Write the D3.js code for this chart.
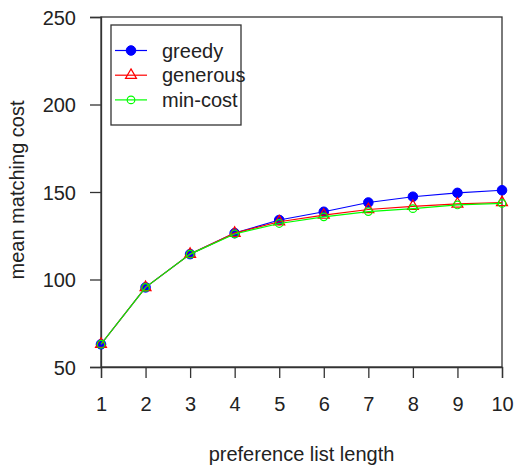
<!DOCTYPE html>
<html>
<head>
<meta charset="utf-8">
<script src="https://cdn.jsdelivr.net/npm/d3@7"></script>
<style>
  body { margin: 0; background: #fff; }
  text { font-family: "Liberation Sans", Arial, sans-serif; fill: #222; }
</style>
</head>
<body>
<div id="chart"></div>
<script>
// preference list length
const listLength = [1, 2, 3, 4, 5, 6, 7, 8, 9, 10];
// mean matching cost per algorithm
const greedy   = [63, 95.5, 114.5, 126.5, 134, 138.7, 144, 147.3, 149.5, 151];
const generous = [63, 95.5, 114.5, 126.5, 133, 136.8, 140, 141.8, 143.2, 144];
const minCost  = [63, 95.5, 114.5, 126, 132, 135.8, 138.8, 140.5, 142.6, 143.5];
const yTicks = [50, 100, 150, 200, 250];

const W = 514, H = 467;
const margin = {top: 17, right: 12, bottom: 100, left: 101};

const svg = d3.select('#chart').append('svg')
  .attr('width', W).attr('height', H);

const x = d3.scaleLinear().domain([1, 10]).range([margin.left, W - margin.right]);
const y = d3.scaleLinear().domain([50, 250]).range([H - margin.bottom, margin.top]);

const axisColor = '#333';

// box round the plot
svg.append('rect')
  .attr('x', x(1)).attr('y', y(250))
  .attr('width', x(10) - x(1)).attr('height', y(50) - y(250))
  .attr('fill', 'none').attr('stroke', axisColor).attr('stroke-width', 1.3);

// axes
const xAxis = svg.append('g')
  .attr('transform', `translate(0,${y(50)})`)
  .call(d3.axisBottom(x).tickValues(listLength).tickSize(11).tickPadding(19).tickFormat(d3.format('d')));
const yAxis = svg.append('g')
  .attr('transform', `translate(${x(1)},0)`)
  .call(d3.axisLeft(y).tickValues(yTicks).tickSize(11).tickPadding(14));

[xAxis, yAxis].forEach(g => {
  g.select('.domain').attr('stroke', axisColor).attr('stroke-width', 1.3);
  g.selectAll('.tick line').attr('stroke', axisColor).attr('stroke-width', 1.3);
  g.selectAll('.tick text').attr('font-size', 20).attr('fill', '#222')
    .style('font-family', '"Liberation Sans", Arial, sans-serif');
});
yAxis.selectAll('.tick text').attr('dy', '0.36em');

// axis titles
svg.append('text')
  .attr('x', (x(1) + x(10)) / 2).attr('y', 461)
  .attr('text-anchor', 'middle').attr('font-size', 20)
  .text('preference list length');
svg.append('text')
  .attr('transform', `translate(24,${(y(50) + y(250)) / 2 - 2}) rotate(-90)`)
  .attr('text-anchor', 'middle').attr('font-size', 20)
  .text('mean matching cost');

// series
const series = [
  {name: 'greedy',   values: greedy,   color: '#0000ff', shape: 'dot'},
  {name: 'generous', values: generous, color: '#ff0000', shape: 'triangle'},
  {name: 'min-cost', values: minCost,  color: '#00ff00', shape: 'circle'}
];

function drawMarker(g, s, cx, cy) {
  if (s.shape === 'dot') {
    g.append('circle').attr('cx', cx).attr('cy', cy).attr('r', 4.8)
      .attr('fill', s.color).attr('stroke', s.color);
  } else if (s.shape === 'circle') {
    g.append('circle').attr('cx', cx).attr('cy', cy).attr('r', 3.8)
      .attr('fill', 'none').attr('stroke', s.color).attr('stroke-width', 1.2);
  } else {
    g.append('path').attr('transform', `translate(${cx},${cy})`)
      .attr('d', d3.symbol(d3.symbolTriangle, 52)())
      .attr('fill', 'none').attr('stroke', s.color).attr('stroke-width', 1.2);
  }
}

const line = d3.line().x(d => x(d[0])).y(d => y(d[1]));

series.forEach(s => {
  const pts = listLength.map((k, i) => [k, s.values[i]]);
  const g = svg.append('g');
  g.append('path').datum(pts)
    .attr('d', line)
    .attr('fill', 'none').attr('stroke', s.color).attr('stroke-width', 1.2);
  pts.forEach(p => drawMarker(g, s, x(p[0]), y(p[1])));
});

// legend
const legend = svg.append('g');
legend.append('rect')
  .attr('x', 111).attr('y', 25).attr('width', 130).attr('height', 100)
  .attr('fill', '#fff').attr('stroke', axisColor).attr('stroke-width', 1.3);
series.forEach((s, i) => {
  const ly = 50.5 + i * 24.7;
  legend.append('line')
    .attr('x1', 115).attr('x2', 147).attr('y1', ly).attr('y2', ly)
    .attr('stroke', s.color).attr('stroke-width', 1.2);
  drawMarker(legend, s, 131, ly);
  legend.append('text')
    .attr('x', 162).attr('y', ly).attr('dy', '0.36em')
    .attr('font-size', 20)
    .text(s.name);
});
</script>
</body>
</html>
